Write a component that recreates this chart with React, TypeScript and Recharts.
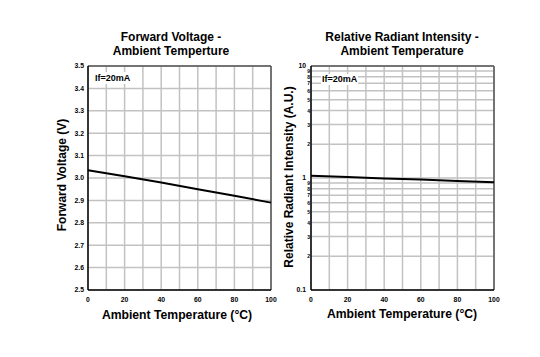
import React from 'react';
import { LineChart, Line, XAxis, YAxis, CartesianGrid, ReferenceLine } from 'recharts';

const temps = [0, 20, 40, 60, 80, 100];
const forwardVoltage = [3.035, 3.008, 2.98, 2.95, 2.921, 2.89];
const relIntensity = [1.05, 1.02, 0.99, 0.97, 0.94, 0.915];

const tempTicks = [0, 10, 20, 30, 40, 50, 60, 70, 80, 90, 100];
const vfTicks = [2.5, 2.6, 2.7, 2.8, 2.9, 3.0, 3.1, 3.2, 3.3, 3.4, 3.5];
const logTicks = [0.1, 0.2, 0.3, 0.4, 0.5, 0.6, 0.7, 0.8, 0.9, 1, 2, 3, 4, 5, 6, 7, 8, 9, 10];
const majorLogTicks = [0.1, 1, 10];

const vfData = temps.map((t, i) => ({ t, v: forwardVoltage[i] }));
const riData = temps.map((t, i) => ({ t, r: relIntensity[i] }));

const FONT = '"Liberation Sans", Arial, Helvetica, sans-serif';
const GRID = '#c2c2c2';

const xTick = { fontSize: 6.8, fontWeight: 700, fill: '#000', fontFamily: FONT };

const LogTick = (props: any) => {
  const { x, y, payload } = props;
  const v: number = payload.value;
  const major = majorLogTicks.some((m) => Math.abs(m - v) < 1e-9);
  let label: string;
  if (major) label = v === 0.1 ? '0.1' : String(v);
  else {
    const m = v < 1 ? Math.round(v * 10) : Math.round(v);
    label = String(m);
  }
  return (
    <text
      x={major ? x - 4 : x}
      y={major ? y - 1 : y}
      textAnchor="end"
      dominantBaseline="central"
      fontSize={major ? 6.8 : 5}
      fontWeight={700}
      fill="#000"
      fontFamily={FONT}
    >
      {label}
    </text>
  );
};

const textStyle: React.CSSProperties = {
  position: 'absolute',
  fontFamily: FONT,
  fontWeight: 700,
  color: '#000',
  textAlign: 'center',
  whiteSpace: 'nowrap',
};

export default function App() {
  return (
    <div style={{ position: 'absolute', left: 0, top: 0, width: 540, height: 357, background: '#fff' }}>
      <div style={{ position: 'absolute', left: 0, top: 0 }}>
        <LineChart width={280} height={357} data={vfData} margin={{ top: 66, right: 9, bottom: 37, left: 58 }}>
          <CartesianGrid stroke={GRID} strokeWidth={1.5} />
          <XAxis
            dataKey="t"
            type="number"
            domain={[0, 100]}
            ticks={tempTicks}
            interval={0}
            tickFormatter={(v: number) => (v % 20 === 0 ? String(v) : '')}
            tickLine={false}
            tickSize={0}
            tickMargin={7}
            axisLine={{ stroke: '#000', strokeWidth: 1.5 }}
            tick={xTick}
            height={30}
          />
          <YAxis
            type="number"
            domain={[2.5, 3.5]}
            ticks={vfTicks}
            interval={0}
            tickFormatter={(v: number) => v.toFixed(1)}
            tickLine={false}
            tickSize={0}
            tickMargin={4}
            axisLine={{ stroke: '#000', strokeWidth: 1.5 }}
            tick={xTick}
            width={30}
          />
          <ReferenceLine y={3.5} stroke="#555" strokeWidth={1.5} />
          <ReferenceLine x={100} stroke="#555" strokeWidth={1.5} />
          <Line dataKey="v" stroke="#000" strokeWidth={2} dot={false} isAnimationActive={false} />
        </LineChart>
      </div>
      <div style={{ position: 'absolute', left: 280, top: 0 }}>
        <LineChart width={260} height={357} data={riData} margin={{ top: 66, right: 46, bottom: 37, left: 6 }}>
          <CartesianGrid stroke={GRID} strokeWidth={1.5} />
          <XAxis
            dataKey="t"
            type="number"
            domain={[0, 100]}
            ticks={tempTicks}
            interval={0}
            tickFormatter={(v: number) => (v % 20 === 0 ? String(v) : '')}
            tickLine={false}
            tickSize={0}
            tickMargin={7}
            axisLine={{ stroke: '#000', strokeWidth: 1.5 }}
            tick={xTick}
            height={30}
          />
          <YAxis
            type="number"
            scale="log"
            domain={[0.1, 10]}
            ticks={logTicks}
            interval={0}
            tickLine={false}
            tickSize={0}
            tickMargin={1}
            axisLine={{ stroke: '#000', strokeWidth: 1.5 }}
            tick={<LogTick />}
            width={25}
            allowDataOverflow
          />
          <ReferenceLine y={10} stroke="#555" strokeWidth={1.5} />
          <ReferenceLine x={100} stroke="#555" strokeWidth={1.5} />
          <Line dataKey="r" stroke="#000" strokeWidth={2} dot={false} isAnimationActive={false} />
        </LineChart>
      </div>

      <div style={{ ...textStyle, left: 71, width: 200, top: 30, fontSize: 12, lineHeight: '14px' }}>
        Forward Voltage -<br />Ambient Temperture
      </div>
      <div style={{ ...textStyle, left: 302, width: 200, top: 30, fontSize: 12, lineHeight: '14px' }}>
        Relative Radiant Intensity -<br />Ambient Temperature
      </div>

      <div style={{ ...textStyle, left: 94, top: 72, fontSize: 9, lineHeight: '12px', background: '#fff', padding: '0 1px' }}>
        If=20mA
      </div>
      <div style={{ ...textStyle, left: 321, top: 74, fontSize: 9, lineHeight: '11px', background: '#fff', padding: '0 1px' }}>
        If=20mA
      </div>

      <div style={{ ...textStyle, left: 77, width: 200, top: 308, fontSize: 12.2, lineHeight: '14px' }}>
        Ambient Temperature (°C)
      </div>
      <div style={{ ...textStyle, left: 302, width: 200, top: 307, fontSize: 12.2, lineHeight: '14px' }}>
        Ambient Temperature (°C)
      </div>

      <div
        style={{
          ...textStyle,
          left: 62 - 100,
          top: 175 - 7,
          width: 200,
          fontSize: 12,
          lineHeight: '14px',
          transform: 'rotate(-90deg)',
          transformOrigin: '100px 7px',
        }}
      >
        Forward Voltage (V)
      </div>
      <div
        style={{
          ...textStyle,
          left: 289 - 100,
          top: 177 - 7,
          width: 200,
          fontSize: 12,
          lineHeight: '14px',
          transform: 'rotate(-90deg)',
          transformOrigin: '100px 7px',
        }}
      >
        Relative Radiant Intensity (A.U.)
      </div>
    </div>
  );
}
